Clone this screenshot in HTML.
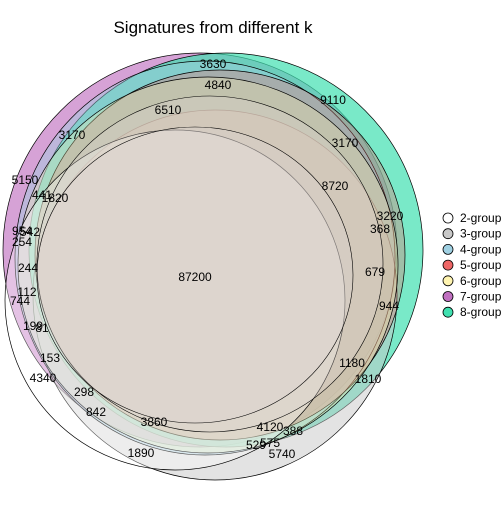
<!DOCTYPE html>
<html><head><meta charset="utf-8"><style>
body{margin:0;background:#fff}
svg text{font-family:"Liberation Sans",sans-serif}
</style></head><body>
<svg width="504" height="504" viewBox="0 0 504 504">
<rect width="504" height="504" fill="#fff"/>
<text x="213" y="33" font-size="17" text-anchor="middle">Signatures from different k</text>
<g id="sets"></g>
<g id="labels" font-size="12" text-anchor="middle"></g>
<g id="legend" font-size="12"></g>
</svg>
<script>
const groups=["2-group","3-group","4-group","5-group","6-group","7-group","8-group"];
const colors=["#ffffff","#c8c8c8","#9fd0e2","#ee6666","#fff4b0","#c070c0","#40e0b0"];
const regionValues=["87200","3630","4840","9110","6510","3170","3170","8720","5150","441","1820","3220","368","954","542","254","244","679","112","744","944","199","81","153","1180","1810","4340","298","842","3860","4120","388","529","575","5740","1890"];
const labelX=[195,213,218,333,168,72,345,335,25,42,55,390,380,22,30,22,28,375,27,20,389,33,42,50,352,368,43,84,96,154,270,293,256,270,282,141];
const labelY=[277,64,85,100,110,135,143,186,180,195,198,216,229,231,232,242,268,272,292,301,306,326,328,358,363,379,378,392,412,422,427,431,445,443,454,453];
const shapes=[[175,300,170,170],[215,295,182,185],[205,258,190,197],[220,255,185,185],[208,265,190,188],[200,250,197,197],[226,250,197,197]];
const order=[5,6,1,2,3,4,0];
const alphas=[0.35,0.5,0.45,0.32,0.3,0.65,0.7];
const gs=document.getElementById('sets');
order.forEach(i=>{const s=shapes[i];const e=document.createElementNS('http://www.w3.org/2000/svg','ellipse');
e.setAttribute('cx',s[0]);e.setAttribute('cy',s[1]);e.setAttribute('rx',s[2]);e.setAttribute('ry',s[3]);
e.setAttribute('fill',colors[i]);e.setAttribute('fill-opacity',alphas[i]);e.setAttribute('stroke','#000');e.setAttribute('stroke-width','0.7');


gs.appendChild(e);});
const inner=[[210,264,173,168],[195,275,158,148]];
inner.forEach(s=>{const e=document.createElementNS('http://www.w3.org/2000/svg','ellipse');
e.setAttribute('cx',s[0]);e.setAttribute('cy',s[1]);e.setAttribute('rx',s[2]);e.setAttribute('ry',s[3]);
e.setAttribute('fill','#dcd4d2');e.setAttribute('fill-opacity','0.35');e.setAttribute('stroke','#000');e.setAttribute('stroke-width','0.6');


gs.appendChild(e);});
const gl=document.getElementById('labels');
regionValues.forEach((v,i)=>{const t=document.createElementNS('http://www.w3.org/2000/svg','text');
t.setAttribute('x',labelX[i]);t.setAttribute('y',labelY[i]+4);t.textContent=v;


gl.appendChild(t);});
const lg=document.getElementById('legend');
groups.forEach((g,i)=>{const y=218+i*15.7;
const c=document.createElementNS('http://www.w3.org/2000/svg','circle');
c.setAttribute('cx',448);c.setAttribute('cy',y);c.setAttribute('r',5);c.setAttribute('fill',colors[i]);c.setAttribute('stroke','#000');c.setAttribute('stroke-width','0.8');


lg.appendChild(c);
const t=document.createElementNS('http://www.w3.org/2000/svg','text');
t.setAttribute('x',460);t.setAttribute('y',y+4);t.textContent=g;


lg.appendChild(t);});
</script>
</body></html>
